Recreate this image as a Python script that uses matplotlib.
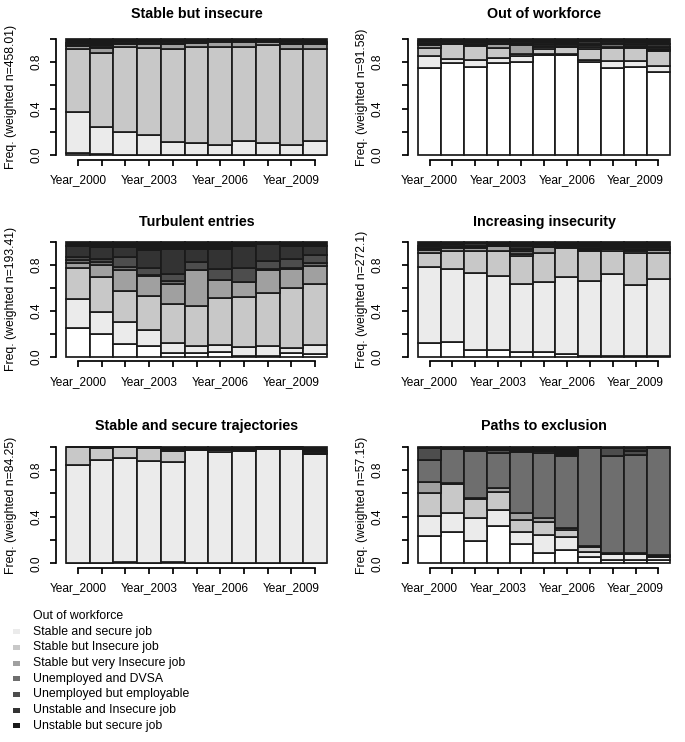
import matplotlib.pyplot as plt
import numpy as np
from matplotlib.patches import Rectangle

W, H = 685, 742

years = ['Year_%d' % y for y in range(2000, 2011)]
shown_years = ['Year_2000', 'Year_2003', 'Year_2006', 'Year_2009']

states = ['Out of workforce', 'Stable and secure job', 'Stable but Insecure job',
          'Stable but very Insecure job', 'Unemployed and DVSA', 'Unemployed but employable',
          'Unstable and Insecure job', 'Unstable but secure job']
state_colors = ['#ffffff', '#ebebeb', '#c8c8c8', '#a0a0a0', '#6e6e6e', '#4d4d4d', '#333333', '#1a1a1a']

titles = ['Stable but insecure', 'Out of workforce', 'Turbulent entries',
          'Increasing insecurity', 'Stable and secure trajectories', 'Paths to exclusion']
weighted_n = ['458.01', '91.58', '193.41', '272.1', '84.25', '57.15']

# upper edge of each state's segment per year (last state always reaches 1.0)
stable_insecure_tops = [
    [0.02, 0.01, 0, 0, 0, 0, 0, 0, 0, 0, 0],
    [0.37, 0.24, 0.195, 0.17, 0.11, 0.10, 0.085, 0.12, 0.10, 0.085, 0.12],
    [0.915, 0.88, 0.93, 0.92, 0.91, 0.93, 0.935, 0.935, 0.945, 0.91, 0.91],
    [0.94, 0.92, 0.96, 0.96, 0.955, 0.965, 0.975, 0.975, 0.975, 0.955, 0.955],
    [0.945, 0.93, 0.965, 0.965, 0.96, 0.97, 0.98, 0.98, 0.98, 0.96, 0.96],
    [0.95, 0.945, 0.97, 0.97, 0.97, 0.975, 0.985, 0.985, 0.985, 0.97, 0.965],
    [0.965, 0.96, 0.98, 0.98, 0.98, 0.985, 0.99, 0.99, 0.99, 0.98, 0.975],
]
out_workforce_tops = [
    [0.75, 0.79, 0.76, 0.795, 0.80, 0.86, 0.86, 0.80, 0.75, 0.76, 0.715],
    [0.85, 0.83, 0.82, 0.84, 0.85, 0.87, 0.87, 0.82, 0.81, 0.81, 0.77],
    [0.925, 0.955, 0.94, 0.92, 0.87, 0.91, 0.93, 0.91, 0.92, 0.92, 0.90],
    [0.95, 0.96, 0.945, 0.955, 0.95, 0.93, 0.935, 0.93, 0.93, 0.93, 0.905],
    [0.96, 0.965, 0.95, 0.96, 0.955, 0.94, 0.94, 0.945, 0.96, 0.94, 0.915],
    [0.97, 0.97, 0.96, 0.97, 0.965, 0.955, 0.955, 0.96, 0.97, 0.955, 0.93],
    [0.985, 0.985, 0.975, 0.985, 0.98, 0.975, 0.97, 0.98, 0.985, 0.975, 0.955],
]
turbulent_tops = [
    [0.25, 0.20, 0.11, 0.095, 0.035, 0.03, 0.045, 0.005, 0.01, 0.03, 0.02],
    [0.50, 0.385, 0.305, 0.235, 0.115, 0.09, 0.10, 0.08, 0.09, 0.075, 0.10],
    [0.77, 0.695, 0.575, 0.525, 0.46, 0.44, 0.51, 0.52, 0.55, 0.60, 0.635],
    [0.815, 0.795, 0.755, 0.70, 0.635, 0.75, 0.665, 0.645, 0.755, 0.765, 0.785],
    [0.84, 0.82, 0.775, 0.71, 0.655, 0.755, 0.67, 0.65, 0.765, 0.77, 0.81],
    [0.87, 0.85, 0.865, 0.77, 0.72, 0.82, 0.76, 0.77, 0.83, 0.85, 0.88],
    [0.96, 0.955, 0.955, 0.93, 0.94, 0.94, 0.935, 0.96, 0.98, 0.96, 0.96],
]
increasing_tops = [
    [0.115, 0.125, 0.06, 0.06, 0.045, 0.045, 0.02, 0.01, 0.01, 0.01, 0.01],
    [0.775, 0.76, 0.725, 0.705, 0.635, 0.645, 0.69, 0.655, 0.715, 0.625, 0.675],
    [0.905, 0.92, 0.92, 0.915, 0.875, 0.90, 0.945, 0.92, 0.92, 0.90, 0.90],
    [0.925, 0.945, 0.945, 0.96, 0.895, 0.95, 0.95, 0.93, 0.935, 0.92, 0.925],
    [0.935, 0.95, 0.955, 0.965, 0.915, 0.955, 0.955, 0.935, 0.94, 0.925, 0.93],
    [0.945, 0.96, 0.965, 0.97, 0.935, 0.96, 0.96, 0.945, 0.945, 0.935, 0.94],
    [0.965, 0.975, 0.985, 0.98, 0.965, 0.975, 0.97, 0.96, 0.955, 0.95, 0.95],
]
secure_tops = [
    [0, 0, 0.01, 0, 0.01, 0, 0, 0, 0, 0, 0],
    [0.845, 0.89, 0.90, 0.88, 0.87, 0.975, 0.955, 0.965, 0.98, 0.98, 0.935],
    [1.0, 0.985, 0.995, 0.99, 0.96, 0.975, 0.97, 0.97, 0.99, 0.99, 0.935],
    [1.0, 0.985, 0.995, 0.99, 0.96, 0.975, 0.97, 0.97, 0.99, 0.99, 0.94],
    [1.0, 0.99, 1.0, 0.995, 0.965, 0.98, 0.975, 0.975, 0.99, 0.99, 0.945],
    [1.0, 0.99, 1.0, 0.995, 0.97, 0.98, 0.98, 0.98, 0.995, 0.995, 0.95],
    [1.0, 0.995, 1.0, 1.0, 0.98, 0.99, 0.99, 0.99, 1.0, 1.0, 0.965],
]
exclusion_tops = [
    [0.235, 0.27, 0.195, 0.32, 0.165, 0.085, 0.115, 0.055, 0.03, 0.025, 0.025],
    [0.41, 0.43, 0.385, 0.46, 0.265, 0.245, 0.23, 0.10, 0.08, 0.08, 0.055],
    [0.60, 0.68, 0.555, 0.615, 0.375, 0.355, 0.29, 0.14, 0.08, 0.085, 0.065],
    [0.70, 0.685, 0.56, 0.645, 0.435, 0.385, 0.30, 0.15, 0.085, 0.09, 0.07],
    [0.885, 0.98, 0.965, 0.95, 0.955, 0.945, 0.92, 0.985, 0.92, 0.925, 0.985],
    [0.985, 0.985, 0.975, 0.97, 0.965, 0.96, 0.925, 0.99, 0.985, 0.965, 0.99],
    [0.99, 0.99, 0.985, 0.98, 0.975, 0.975, 0.93, 0.995, 0.99, 0.985, 0.995],
]
panel_tops = [stable_insecure_tops, out_workforce_tops, turbulent_tops,
              increasing_tops, secure_tops, exclusion_tops]


def px_box(left, top, right, bottom):
    return [left / W, 1 - bottom / H, (right - left) / W, (bottom - top) / H]


def main():
    plt.rcParams['font.family'] = ['Liberation Sans', 'DejaVu Sans']
    fig = plt.figure(figsize=(W / 100, H / 100), dpi=100)

    cols = [(55.6, 337.4), (408, 680)]
    rows = [(34.4, 159.6), (237, 361.3), (442, 568)]
    title_y = [13.5, 222, 426]
    ylab_x = [11, 362]
    ytick_pad = [5, 13]
    x = np.arange(len(years))

    for i, tops in enumerate(panel_tops):
        r, c = divmod(i, 2)
        (l, rt), (t, b) = cols[c], rows[r]
        ax = fig.add_axes(px_box(l, t, rt, b))
        edges = np.vstack([np.zeros(len(years)), np.array(tops), np.ones(len(years))])
        for k in range(len(states)):
            ax.bar(x, edges[k + 1] - edges[k], bottom=edges[k], width=1.0,
                   color=state_colors[k], edgecolor='#1a1a1a', linewidth=1.25)
        ax.set_xlim(-0.5 - 0.44, len(years) - 0.5 + 0.44)
        ax.set_ylim(-0.04, 1.04)
        for s in ['top', 'right']:
            ax.spines[s].set_visible(False)
        ax.spines['left'].set_bounds(0, 1)
        ax.spines['bottom'].set_bounds(0, len(years) - 1)
        for s in ['left', 'bottom']:
            ax.spines[s].set_linewidth(1.25)
        ax.set_xticks(x, [y if y in shown_years else '' for y in years])
        ax.set_yticks(np.arange(0, 1.01, 0.2),
                      ['0.0', '', '0.4', '', '0.8', ''])
        ax.tick_params(axis='x', length=4.3, width=1.25, pad=6, labelsize=8.6)
        ax.tick_params(axis='y', length=4.3, width=1.25, pad=ytick_pad[c], labelsize=8.6)
        for lab in ax.get_yticklabels():
            lab.set_rotation(90)
            lab.set_va('center')
        fig.text((l + rt) / 2 / W, 1 - title_y[r] / H, titles[i], ha='center', va='center',
                 fontsize=10.3, fontweight='bold')
        fig.text(ylab_x[c] / W, 1 - (t + b) / 2 / H, 'Freq. (weighted n=%s)' % weighted_n[i],
                 rotation=90, ha='center', va='center', fontsize=8.8)

    # legend
    for k, (name, col) in enumerate(zip(states, state_colors)):
        yc = 616 + k * 15.7
        fig.patches.append(Rectangle((13 / W, 1 - (yc + 2.5) / H), 7 / W, 5 / H,
                                     transform=fig.transFigure, facecolor=col,
                                     edgecolor='none'))
        fig.text(33 / W, 1 - yc / H, name, ha='left', va='center', fontsize=8.8)

    fig.savefig('out.png', dpi=100)


if __name__ == '__main__':
    main()
